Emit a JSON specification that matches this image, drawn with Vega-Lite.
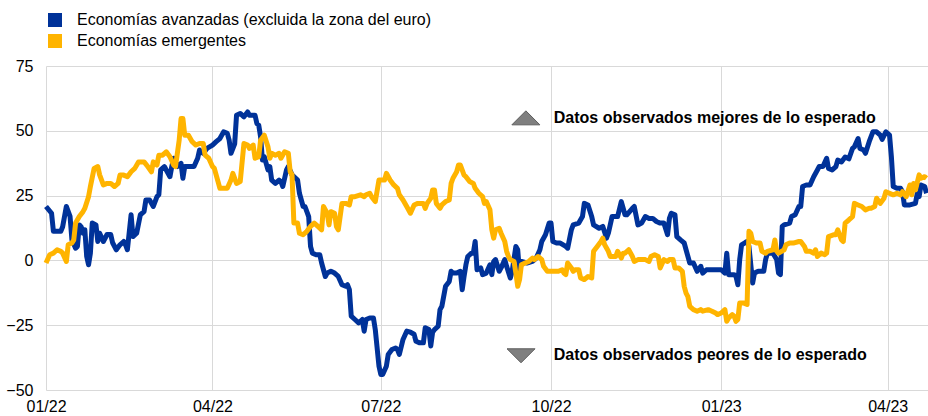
{
"$schema": "https://vega.github.io/schema/vega-lite/v6.json",
"autosize": "none",
"width": 882,
"height": 324,
"padding": {"left": 46, "top": 66, "right": 0, "bottom": 26},
"background": "white",
"config": {
  "view": {"stroke": null},
  "font": "Liberation Sans",
  "axis": {"labelFont": "Liberation Sans", "labelFontSize": 16, "labelColor": "#000000", "gridColor": "#d9d9d9", "gridWidth": 1, "ticks": false, "domain": false, "title": null},
  "legend": {"labelFont": "Liberation Sans", "labelFontSize": 16, "labelColor": "#000000", "labelLimit": 0}
},
"datasets": {
  "avanzadas": [
{"d":"2022-01-01","v":20.8},{"d":"2022-01-04","v":18.2},{"d":"2022-01-05","v":11.2},{"d":"2022-01-09","v":11.2},{"d":"2022-01-10","v":13},{"d":"2022-01-12","v":20.8},{"d":"2022-01-14","v":17},{"d":"2022-01-15","v":8},{"d":"2022-01-17","v":4.7},{"d":"2022-01-18","v":5.4},{"d":"2022-01-19","v":13.7},{"d":"2022-01-20","v":13},{"d":"2022-01-21","v":10.5},{"d":"2022-01-22","v":11.8},{"d":"2022-01-23","v":1.5},{"d":"2022-01-24","v":-1.7},{"d":"2022-01-25","v":2.8},{"d":"2022-01-26","v":14.4},{"d":"2022-01-28","v":13.7},{"d":"2022-01-29","v":7.3},{"d":"2022-01-30","v":10.5},
{"d":"2022-02-01","v":7.3},{"d":"2022-02-03","v":10},{"d":"2022-02-05","v":10},{"d":"2022-02-06","v":6.8},{"d":"2022-02-08","v":4.1},{"d":"2022-02-10","v":6},{"d":"2022-02-12","v":7.3},{"d":"2022-02-13","v":6},{"d":"2022-02-14","v":4.1},{"d":"2022-02-16","v":17.6},{"d":"2022-02-17","v":9.2},{"d":"2022-02-19","v":10.5},{"d":"2022-02-21","v":17.6},{"d":"2022-02-23","v":18.8},{"d":"2022-02-24","v":23.3},{"d":"2022-02-26","v":23.3},{"d":"2022-02-28","v":20.8},
{"d":"2022-03-02","v":24.6},{"d":"2022-03-03","v":25.3},{"d":"2022-03-04","v":34.9},{"d":"2022-03-06","v":36.2},{"d":"2022-03-07","v":34.9},{"d":"2022-03-09","v":32.3},{"d":"2022-03-10","v":36.2},{"d":"2022-03-11","v":39.4},{"d":"2022-03-13","v":36.2},{"d":"2022-03-15","v":37.4},{"d":"2022-03-16","v":31.7},{"d":"2022-03-17","v":36.2},{"d":"2022-03-19","v":36.2},{"d":"2022-03-22","v":36.2},{"d":"2022-03-24","v":39.4},{"d":"2022-03-25","v":42.6},{"d":"2022-03-27","v":41.3},{"d":"2022-03-29","v":43.2},
{"d":"2022-04-01","v":44.5},{"d":"2022-04-03","v":45.8},{"d":"2022-04-05","v":47},{"d":"2022-04-07","v":49.6},{"d":"2022-04-09","v":49},{"d":"2022-04-10","v":46.4},{"d":"2022-04-11","v":41.3},{"d":"2022-04-13","v":45},{"d":"2022-04-14","v":56},{"d":"2022-04-16","v":56.7},{"d":"2022-04-18","v":55.4},{"d":"2022-04-20","v":57.3},{"d":"2022-04-21","v":56},{"d":"2022-04-24","v":56},{"d":"2022-04-25","v":52.8},{"d":"2022-04-26","v":52.2},{"d":"2022-04-27","v":47.7},{"d":"2022-04-28","v":38.7},{"d":"2022-04-29","v":40},
{"d":"2022-05-01","v":34.9},{"d":"2022-05-02","v":36.2},{"d":"2022-05-03","v":31},{"d":"2022-05-05","v":29.7},{"d":"2022-05-07","v":31},{"d":"2022-05-08","v":30.4},{"d":"2022-05-09","v":28.5},{"d":"2022-05-11","v":34.9},{"d":"2022-05-12","v":36.2},{"d":"2022-05-14","v":33},{"d":"2022-05-16","v":31.7},{"d":"2022-05-17","v":31},{"d":"2022-05-18","v":25.9},{"d":"2022-05-20","v":20.8},{"d":"2022-05-21","v":20.8},{"d":"2022-05-23","v":16.9},{"d":"2022-05-24","v":5.4},{"d":"2022-05-25","v":2.8},{"d":"2022-05-27","v":2.2},{"d":"2022-05-29","v":2.2},{"d":"2022-05-30","v":-1},
{"d":"2022-06-01","v":-6.2},{"d":"2022-06-02","v":-4.9},{"d":"2022-06-04","v":-4.2},{"d":"2022-06-06","v":-4.9},{"d":"2022-06-08","v":-6.2},{"d":"2022-06-10","v":-9.4},{"d":"2022-06-12","v":-10},{"d":"2022-06-13","v":-9.4},{"d":"2022-06-14","v":-11.3},{"d":"2022-06-15","v":-21.5},{"d":"2022-06-17","v":-22.8},{"d":"2022-06-19","v":-24.1},{"d":"2022-06-21","v":-22.8},{"d":"2022-06-22","v":-27.3},{"d":"2022-06-23","v":-22.8},{"d":"2022-06-25","v":-22.2},{"d":"2022-06-27","v":-22.2},{"d":"2022-06-28","v":-26.7},{"d":"2022-06-30","v":-40.8},
{"d":"2022-07-01","v":-44},{"d":"2022-07-02","v":-44},{"d":"2022-07-04","v":-40.8},{"d":"2022-07-05","v":-36.3},{"d":"2022-07-07","v":-34.4},{"d":"2022-07-09","v":-33.8},{"d":"2022-07-10","v":-34.4},{"d":"2022-07-11","v":-36.3},{"d":"2022-07-13","v":-30.5},{"d":"2022-07-15","v":-27.3},{"d":"2022-07-17","v":-27.7},{"d":"2022-07-19","v":-28.5},{"d":"2022-07-20","v":-31.2},{"d":"2022-07-22","v":-31.8},{"d":"2022-07-24","v":-31.8},{"d":"2022-07-25","v":-26},{"d":"2022-07-27","v":-26.7},{"d":"2022-07-28","v":-33},{"d":"2022-07-29","v":-27.7},{"d":"2022-07-30","v":-26.7},
{"d":"2022-08-01","v":-25.4},{"d":"2022-08-02","v":-19},{"d":"2022-08-03","v":-17.7},{"d":"2022-08-05","v":-10},{"d":"2022-08-07","v":-8.1},{"d":"2022-08-08","v":-4.2},{"d":"2022-08-09","v":-4.9},{"d":"2022-08-11","v":-4.9},{"d":"2022-08-13","v":-4.2},{"d":"2022-08-14","v":-11.3},{"d":"2022-08-15","v":-6.2},{"d":"2022-08-16","v":-1.7},{"d":"2022-08-17","v":1.5},{"d":"2022-08-19","v":2.8},{"d":"2022-08-20","v":2.8},{"d":"2022-08-21","v":7.3},{"d":"2022-08-22","v":-3.6},{"d":"2022-08-24","v":-2.9},{"d":"2022-08-25","v":-5.5},{"d":"2022-08-27","v":-4.9},{"d":"2022-08-29","v":-1.7},{"d":"2022-08-30","v":-5.5},{"d":"2022-08-31","v":-0.4},
{"d":"2022-09-01","v":0.3},{"d":"2022-09-03","v":-4.2},{"d":"2022-09-04","v":-2.9},{"d":"2022-09-06","v":0.3},{"d":"2022-09-07","v":-2.3},{"d":"2022-09-09","v":-6.8},{"d":"2022-09-10","v":-4.2},{"d":"2022-09-12","v":5.4},{"d":"2022-09-13","v":4.1},{"d":"2022-09-14","v":-4.9},{"d":"2022-09-15","v":-0.4},{"d":"2022-09-18","v":-1},{"d":"2022-09-21","v":-0.4},{"d":"2022-09-23","v":0.9},{"d":"2022-09-25","v":4.1},{"d":"2022-09-26","v":7.3},{"d":"2022-09-28","v":9.9},{"d":"2022-09-30","v":14.4},
{"d":"2022-10-01","v":14.4},{"d":"2022-10-02","v":7.3},{"d":"2022-10-04","v":6.7},{"d":"2022-10-06","v":6.7},{"d":"2022-10-09","v":5.4},{"d":"2022-10-10","v":4.7},{"d":"2022-10-12","v":11.8},{"d":"2022-10-13","v":13.7},{"d":"2022-10-16","v":14.4},{"d":"2022-10-18","v":16.9},{"d":"2022-10-19","v":22},{"d":"2022-10-21","v":21.4},{"d":"2022-10-23","v":16.9},{"d":"2022-10-24","v":13.7},{"d":"2022-10-27","v":12.4},{"d":"2022-10-29","v":13.1},{"d":"2022-10-31","v":8.6},
{"d":"2022-11-01","v":10.5},{"d":"2022-11-03","v":16.9},{"d":"2022-11-05","v":16.9},{"d":"2022-11-06","v":16.9},{"d":"2022-11-08","v":22.7},{"d":"2022-11-10","v":17.6},{"d":"2022-11-11","v":17.6},{"d":"2022-11-14","v":20.1},{"d":"2022-11-15","v":20.8},{"d":"2022-11-17","v":13.7},{"d":"2022-11-19","v":14.4},{"d":"2022-11-21","v":16.9},{"d":"2022-11-23","v":16.2},{"d":"2022-11-25","v":16.2},{"d":"2022-11-27","v":15},{"d":"2022-11-29","v":14.4},
{"d":"2022-12-01","v":14.4},{"d":"2022-12-03","v":9.9},{"d":"2022-12-04","v":16.2},{"d":"2022-12-05","v":18.2},{"d":"2022-12-07","v":17.6},{"d":"2022-12-08","v":9.2},{"d":"2022-12-10","v":7.9},{"d":"2022-12-12","v":6.7},{"d":"2022-12-13","v":4.1},{"d":"2022-12-15","v":-1},{"d":"2022-12-17","v":-1},{"d":"2022-12-19","v":-4.2},{"d":"2022-12-21","v":-2.3},{"d":"2022-12-22","v":-4.9},{"d":"2022-12-24","v":-3.6},{"d":"2022-12-27","v":-3.6},{"d":"2022-12-30","v":-3.6},
{"d":"2023-01-01","v":-3.6},{"d":"2023-01-03","v":-4.9},{"d":"2023-01-04","v":2.8},{"d":"2023-01-05","v":-5.5},{"d":"2023-01-08","v":-5.5},{"d":"2023-01-09","v":-6.2},{"d":"2023-01-10","v":-9.4},{"d":"2023-01-11","v":0.3},{"d":"2023-01-12","v":6},{"d":"2023-01-14","v":6.9},{"d":"2023-01-15","v":7.3},{"d":"2023-01-16","v":5.4},{"d":"2023-01-18","v":-8.7},{"d":"2023-01-19","v":-4.9},{"d":"2023-01-21","v":-4.2},{"d":"2023-01-24","v":-4.2},{"d":"2023-01-25","v":0.3},{"d":"2023-01-26","v":2.8},{"d":"2023-01-29","v":2.8},{"d":"2023-01-31","v":0.3},
{"d":"2023-02-01","v":-4.9},{"d":"2023-02-02","v":-5.5},{"d":"2023-02-03","v":13.1},{"d":"2023-02-04","v":13.7},{"d":"2023-02-07","v":14.4},{"d":"2023-02-08","v":16.9},{"d":"2023-02-10","v":17.6},{"d":"2023-02-12","v":20.8},{"d":"2023-02-13","v":20.8},{"d":"2023-02-14","v":28.5},{"d":"2023-02-16","v":29.1},{"d":"2023-02-18","v":29.1},{"d":"2023-02-20","v":32.3},{"d":"2023-02-22","v":34.9},{"d":"2023-02-23","v":36.2},{"d":"2023-02-25","v":36.2},{"d":"2023-02-27","v":39.4},{"d":"2023-02-28","v":35.5},
{"d":"2023-03-02","v":34.9},{"d":"2023-03-04","v":36.2},{"d":"2023-03-05","v":38.7},{"d":"2023-03-07","v":38},{"d":"2023-03-09","v":39.9},{"d":"2023-03-11","v":39.2},{"d":"2023-03-13","v":43.2},{"d":"2023-03-14","v":43.8},{"d":"2023-03-16","v":47},{"d":"2023-03-17","v":43.2},{"d":"2023-03-19","v":42.6},{"d":"2023-03-20","v":41.3},{"d":"2023-03-22","v":45.8},{"d":"2023-03-24","v":49.6},{"d":"2023-03-26","v":49.6},{"d":"2023-03-28","v":48.3},{"d":"2023-03-29","v":46.7},{"d":"2023-03-31","v":49.6},
{"d":"2023-04-02","v":48.3},{"d":"2023-04-03","v":40},{"d":"2023-04-04","v":28.5},{"d":"2023-04-06","v":27.8},{"d":"2023-04-08","v":27.8},{"d":"2023-04-09","v":26.5},{"d":"2023-04-10","v":21.4},{"d":"2023-04-13","v":21.4},{"d":"2023-04-16","v":22},{"d":"2023-04-17","v":25.9},{"d":"2023-04-18","v":24.6},{"d":"2023-04-19","v":29.1},{"d":"2023-04-21","v":28.5},{"d":"2023-04-22","v":25.9}
  ],
  "emergentes": [
{"d":"2022-01-01","v":-1},{"d":"2022-01-03","v":2.2},{"d":"2022-01-05","v":2.8},{"d":"2022-01-07","v":4.1},{"d":"2022-01-09","v":3.5},{"d":"2022-01-10","v":2.8},{"d":"2022-01-12","v":-0.4},{"d":"2022-01-13","v":6},{"d":"2022-01-15","v":6.7},{"d":"2022-01-16","v":7.9},{"d":"2022-01-17","v":14.4},{"d":"2022-01-19","v":16.9},{"d":"2022-01-21","v":18.8},{"d":"2022-01-22","v":20.1},{"d":"2022-01-24","v":24.6},{"d":"2022-01-25","v":28.5},{"d":"2022-01-27","v":35.5},{"d":"2022-01-29","v":36.2},{"d":"2022-01-30","v":33},
{"d":"2022-02-01","v":29.1},{"d":"2022-02-03","v":29.7},{"d":"2022-02-05","v":29.7},{"d":"2022-02-07","v":28.5},{"d":"2022-02-09","v":29.7},{"d":"2022-02-10","v":32.9},{"d":"2022-02-12","v":32.9},{"d":"2022-02-14","v":32.3},{"d":"2022-02-16","v":34.2},{"d":"2022-02-18","v":35.5},{"d":"2022-02-20","v":38},{"d":"2022-02-23","v":38},{"d":"2022-02-25","v":36.2},{"d":"2022-02-27","v":34.2},{"d":"2022-02-28","v":38},
{"d":"2022-03-02","v":36.8},{"d":"2022-03-03","v":40.6},{"d":"2022-03-05","v":40.6},{"d":"2022-03-07","v":41.9},{"d":"2022-03-09","v":40},{"d":"2022-03-11","v":36.8},{"d":"2022-03-12","v":36.2},{"d":"2022-03-14","v":46.4},{"d":"2022-03-15","v":54.7},{"d":"2022-03-16","v":54.7},{"d":"2022-03-17","v":48.3},{"d":"2022-03-19","v":48.3},{"d":"2022-03-21","v":45.8},{"d":"2022-03-23","v":44.5},{"d":"2022-03-25","v":45.1},{"d":"2022-03-27","v":45.1},{"d":"2022-03-28","v":40.6},{"d":"2022-03-30","v":39.4},
{"d":"2022-04-01","v":36.2},{"d":"2022-04-02","v":35.5},{"d":"2022-04-04","v":30.4},{"d":"2022-04-05","v":27.8},{"d":"2022-04-07","v":27.8},{"d":"2022-04-09","v":27.8},{"d":"2022-04-11","v":31},{"d":"2022-04-12","v":33.6},{"d":"2022-04-14","v":29.7},{"d":"2022-04-16","v":30.4},{"d":"2022-04-18","v":45.1},{"d":"2022-04-20","v":44.5},{"d":"2022-04-21","v":43.2},{"d":"2022-04-23","v":44.5},{"d":"2022-04-24","v":39.4},{"d":"2022-04-26","v":40},{"d":"2022-04-27","v":46.4},{"d":"2022-04-29","v":48.3},
{"d":"2022-05-01","v":43.8},{"d":"2022-05-02","v":39.4},{"d":"2022-05-03","v":41.3},{"d":"2022-05-05","v":40.6},{"d":"2022-05-07","v":41.3},{"d":"2022-05-08","v":39.4},{"d":"2022-05-10","v":41.9},{"d":"2022-05-12","v":41.3},{"d":"2022-05-13","v":34.2},{"d":"2022-05-14","v":33},{"d":"2022-05-15","v":14.4},{"d":"2022-05-17","v":14.4},{"d":"2022-05-18","v":10.5},{"d":"2022-05-20","v":9.9},{"d":"2022-05-22","v":11.2},{"d":"2022-05-24","v":13.1},{"d":"2022-05-26","v":14.4},{"d":"2022-05-28","v":13.1},{"d":"2022-05-30","v":11.8},{"d":"2022-05-31","v":20.8},
{"d":"2022-06-02","v":18.2},{"d":"2022-06-03","v":13.7},{"d":"2022-06-04","v":18.8},{"d":"2022-06-06","v":18.2},{"d":"2022-06-07","v":13.1},{"d":"2022-06-08","v":11.8},{"d":"2022-06-10","v":22},{"d":"2022-06-12","v":22},{"d":"2022-06-14","v":21.4},{"d":"2022-06-15","v":24.6},{"d":"2022-06-17","v":24.6},{"d":"2022-06-20","v":25.3},{"d":"2022-06-22","v":24.6},{"d":"2022-06-23","v":25.3},{"d":"2022-06-25","v":25.9},{"d":"2022-06-26","v":24.6},{"d":"2022-06-28","v":22.7},{"d":"2022-06-30","v":31},
{"d":"2022-07-02","v":31},{"d":"2022-07-03","v":31},{"d":"2022-07-04","v":33.6},{"d":"2022-07-06","v":31},{"d":"2022-07-08","v":29.1},{"d":"2022-07-10","v":27.8},{"d":"2022-07-11","v":25.3},{"d":"2022-07-13","v":23.3},{"d":"2022-07-15","v":20.8},{"d":"2022-07-17","v":18.2},{"d":"2022-07-19","v":21.4},{"d":"2022-07-21","v":22},{"d":"2022-07-24","v":22},{"d":"2022-07-25","v":20.1},{"d":"2022-07-26","v":22},{"d":"2022-07-28","v":24},{"d":"2022-07-29","v":27.2},{"d":"2022-07-30","v":27.2},{"d":"2022-07-31","v":22},
{"d":"2022-08-02","v":20.1},{"d":"2022-08-03","v":21.4},{"d":"2022-08-05","v":22.7},{"d":"2022-08-07","v":23.3},{"d":"2022-08-08","v":29.7},{"d":"2022-08-09","v":31.7},{"d":"2022-08-11","v":34.2},{"d":"2022-08-12","v":36.8},{"d":"2022-08-13","v":36.8},{"d":"2022-08-15","v":32.9},{"d":"2022-08-16","v":32.3},{"d":"2022-08-18","v":30.4},{"d":"2022-08-20","v":29.7},{"d":"2022-08-21","v":27.8},{"d":"2022-08-23","v":25.9},{"d":"2022-08-25","v":24.6},{"d":"2022-08-26","v":22},{"d":"2022-08-27","v":22.7},{"d":"2022-08-29","v":19.5},{"d":"2022-08-30","v":11.8},{"d":"2022-08-31","v":8.6},
{"d":"2022-09-01","v":11.8},{"d":"2022-09-03","v":12.4},{"d":"2022-09-04","v":10.5},{"d":"2022-09-06","v":7.3},{"d":"2022-09-07","v":3.5},{"d":"2022-09-08","v":1.5},{"d":"2022-09-09","v":0.3},{"d":"2022-09-11","v":-0.4},{"d":"2022-09-12","v":-4.9},{"d":"2022-09-13","v":-10},{"d":"2022-09-14","v":-7.4},{"d":"2022-09-15","v":-1.7},{"d":"2022-09-17","v":-1},{"d":"2022-09-19","v":-0.4},{"d":"2022-09-21","v":0.9},{"d":"2022-09-22","v":0.3},{"d":"2022-09-24","v":1.5},{"d":"2022-09-26","v":0.3},{"d":"2022-09-27","v":-2.3},{"d":"2022-09-29","v":-4.2},{"d":"2022-09-30","v":-4.2},
{"d":"2022-10-03","v":-4.2},{"d":"2022-10-05","v":-4.2},{"d":"2022-10-07","v":-3.6},{"d":"2022-10-08","v":-4.9},{"d":"2022-10-09","v":-5.5},{"d":"2022-10-10","v":-1},{"d":"2022-10-12","v":-2.9},{"d":"2022-10-13","v":-4.2},{"d":"2022-10-14","v":-3.6},{"d":"2022-10-16","v":-3.6},{"d":"2022-10-17","v":-6.8},{"d":"2022-10-19","v":-7.4},{"d":"2022-10-21","v":-6.2},{"d":"2022-10-23","v":-6.8},{"d":"2022-10-24","v":3.5},{"d":"2022-10-26","v":5.4},{"d":"2022-10-28","v":7.3},{"d":"2022-10-29","v":8.6},{"d":"2022-10-30","v":6},
{"d":"2022-11-01","v":3.5},{"d":"2022-11-02","v":1.5},{"d":"2022-11-05","v":1.5},{"d":"2022-11-06","v":3.5},{"d":"2022-11-08","v":0.9},{"d":"2022-11-09","v":2.8},{"d":"2022-11-10","v":2.8},{"d":"2022-11-12","v":4.1},{"d":"2022-11-14","v":1.5},{"d":"2022-11-15","v":-0.4},{"d":"2022-11-17","v":0.3},{"d":"2022-11-19","v":0.3},{"d":"2022-11-21","v":0.3},{"d":"2022-11-23","v":-0.4},{"d":"2022-11-24","v":1.5},{"d":"2022-11-26","v":2.2},{"d":"2022-11-28","v":1.5},{"d":"2022-11-29","v":-2.9},
{"d":"2022-12-01","v":0.3},{"d":"2022-12-03","v":-0.4},{"d":"2022-12-04","v":0.3},{"d":"2022-12-06","v":0.3},{"d":"2022-12-07","v":-2.9},{"d":"2022-12-09","v":-2.9},{"d":"2022-12-11","v":-4.2},{"d":"2022-12-12","v":-10},{"d":"2022-12-13","v":-12.6},{"d":"2022-12-14","v":-14},{"d":"2022-12-15","v":-17.7},{"d":"2022-12-17","v":-19},{"d":"2022-12-19","v":-19.6},{"d":"2022-12-21","v":-19},{"d":"2022-12-22","v":-19.6},{"d":"2022-12-25","v":-19},{"d":"2022-12-27","v":-19.6},{"d":"2022-12-29","v":-20.3},{"d":"2022-12-30","v":-20.9},
{"d":"2023-01-01","v":-20.3},{"d":"2023-01-03","v":-19},{"d":"2023-01-04","v":-23.5},{"d":"2023-01-05","v":-22.2},{"d":"2023-01-07","v":-20.9},{"d":"2023-01-08","v":-21.5},{"d":"2023-01-09","v":-23.5},{"d":"2023-01-10","v":-22.8},{"d":"2023-01-11","v":-16.4},{"d":"2023-01-13","v":-16.4},{"d":"2023-01-15","v":-17},{"d":"2023-01-16","v":11.2},{"d":"2023-01-17","v":10.5},{"d":"2023-01-18","v":7.3},{"d":"2023-01-20","v":6.7},{"d":"2023-01-22","v":6.7},{"d":"2023-01-23","v":3.5},{"d":"2023-01-25","v":2.8},{"d":"2023-01-26","v":3.5},{"d":"2023-01-29","v":4.1},{"d":"2023-01-30","v":7.9},{"d":"2023-01-31","v":3.5},
{"d":"2023-02-01","v":2.8},{"d":"2023-02-04","v":4.1},{"d":"2023-02-05","v":6},{"d":"2023-02-07","v":6.7},{"d":"2023-02-09","v":6.7},{"d":"2023-02-12","v":7.3},{"d":"2023-02-13","v":7.3},{"d":"2023-02-15","v":5.4},{"d":"2023-02-16","v":3.5},{"d":"2023-02-18","v":3.5},{"d":"2023-02-20","v":2.8},{"d":"2023-02-21","v":4.1},{"d":"2023-02-22","v":1.5},{"d":"2023-02-24","v":2.8},{"d":"2023-02-26","v":2.2},{"d":"2023-02-27","v":2.8},{"d":"2023-02-28","v":9.2},
{"d":"2023-03-03","v":9.9},{"d":"2023-03-04","v":9.9},{"d":"2023-03-05","v":11.8},{"d":"2023-03-07","v":7.9},{"d":"2023-03-08","v":7.3},{"d":"2023-03-09","v":14.4},{"d":"2023-03-11","v":15.6},{"d":"2023-03-13","v":16.9},{"d":"2023-03-14","v":22},{"d":"2023-03-16","v":21.4},{"d":"2023-03-18","v":20.8},{"d":"2023-03-20","v":19.5},{"d":"2023-03-22","v":20.1},{"d":"2023-03-23","v":20.1},{"d":"2023-03-25","v":20.8},{"d":"2023-03-26","v":24},{"d":"2023-03-28","v":22},{"d":"2023-03-30","v":24},{"d":"2023-03-31","v":26.5},
{"d":"2023-04-02","v":25.9},{"d":"2023-04-04","v":25.3},{"d":"2023-04-06","v":25.9},{"d":"2023-04-08","v":25.3},{"d":"2023-04-09","v":26.5},{"d":"2023-04-11","v":24.6},{"d":"2023-04-13","v":29.1},{"d":"2023-04-14","v":25.3},{"d":"2023-04-15","v":29.7},{"d":"2023-04-16","v":27.2},{"d":"2023-04-18","v":33},{"d":"2023-04-19","v":31.7},{"d":"2023-04-21","v":32.3},{"d":"2023-04-22","v":31.7}
  ],
  "notas": [
    {"d": "2022-10-02T12:00:00Z", "v": 55, "t": "Datos observados mejores de lo esperado"},
    {"d": "2022-10-02T12:00:00Z", "v": -36.6, "t": "Datos observados peores de lo esperado"}
  ],
  "flechaArriba": [{"d": "2022-09-17T10:00:00Z", "v": 55}],
  "flechaAbajo": [{"d": "2022-09-14T19:00:00Z", "v": -36.8}]
},
"layer": [
  {
    "mark": {"type": "rule", "color": "#7f7f7f", "strokeWidth": 2},
    "encoding": {"y": {"datum": 0, "type": "quantitative", "scale": {"domain": [-50, 75], "nice": false}}}
  },
  {
    "data": {"name": "avanzadas"},
    "mark": {"type": "line", "strokeWidth": 5, "strokeJoin": "round"},
    "encoding": {
      "x": {"field": "d", "type": "temporal",
        "scale": {"type": "utc", "domain": [{"year": 2022, "month": 1, "date": 1, "utc": true}, {"year": 2023, "month": 4, "date": 22, "hours": 19, "utc": true}]},
        "axis": {"format": "%m/%y", "labelFlush": false, "labelOverlap": false, "labelPadding": 8, "grid": true,
          "values": [{"year": 2022, "month": 1, "date": 1, "utc": true}, {"year": 2022, "month": 4, "date": 1, "utc": true}, {"year": 2022, "month": 7, "date": 1, "utc": true}, {"year": 2022, "month": 10, "date": 1, "utc": true}, {"year": 2023, "month": 1, "date": 1, "utc": true}, {"year": 2023, "month": 4, "date": 1, "utc": true}]}},
      "y": {"field": "v", "type": "quantitative",
        "scale": {"domain": [-50, 75], "nice": false},
        "axis": {"values": [-50, -25, 0, 25, 50, 75], "labelPadding": 13, "grid": true}},
      "color": {"datum": "Economías avanzadas (excluida la zona del euro)", "type": "nominal",
        "scale": {"domain": ["Economías avanzadas (excluida la zona del euro)", "Economías emergentes"], "range": ["#003299", "#ffb400"]},
        "legend": {"title": null, "orient": "none", "legendX": 1, "legendY": -54, "padding": 0, "symbolType": "square", "symbolSize": 196, "labelOffset": 14, "rowPadding": 5, "symbolStrokeWidth": 0, "labelLimit": 0,
          "encode": {"symbols": {"update": {"fill": {"scale": "color", "field": "value"}, "fillOpacity": {"value": 1}, "strokeWidth": {"value": 0}}}}}}
    }
  },
  {
    "data": {"name": "emergentes"},
    "mark": {"type": "line", "strokeWidth": 5, "strokeJoin": "round"},
    "encoding": {
      "x": {"field": "d", "type": "temporal"},
      "y": {"field": "v", "type": "quantitative"},
      "color": {"datum": "Economías emergentes", "type": "nominal"}
    }
  },
  {
    "data": {"name": "flechaArriba"},
    "mark": {"type": "point", "shape": "M-1,0.5L0,-0.5L1,0.5Z", "size": 784, "filled": true, "fill": "#7f7f7f", "stroke": "#5e5e5e", "strokeWidth": 1, "opacity": 1},
    "encoding": {"x": {"field": "d", "type": "temporal"}, "y": {"field": "v", "type": "quantitative"}}
  },
  {
    "data": {"name": "flechaAbajo"},
    "mark": {"type": "point", "shape": "M-1,-0.5L0,0.5L1,-0.5Z", "size": 784, "filled": true, "fill": "#7f7f7f", "stroke": "#5e5e5e", "strokeWidth": 1, "opacity": 1},
    "encoding": {"x": {"field": "d", "type": "temporal"}, "y": {"field": "v", "type": "quantitative"}}
  },
  {
    "data": {"name": "notas"},
    "mark": {"type": "text", "align": "left", "baseline": "middle", "font": "Liberation Sans", "fontSize": 16, "fontWeight": "bold", "color": "#000000"},
    "encoding": {"x": {"field": "d", "type": "temporal"}, "y": {"field": "v", "type": "quantitative"}, "text": {"field": "t"}}
  }
]
}
